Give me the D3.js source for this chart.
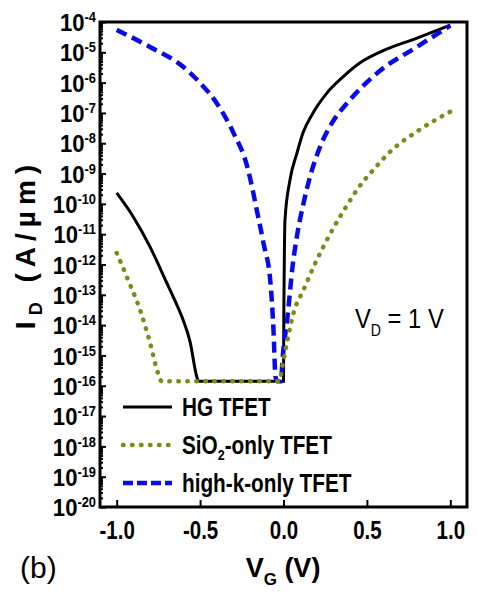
<!DOCTYPE html>
<meta charset="utf-8">
<style>
body { margin: 0; background: #fff; }
text { font-family: "Liberation Sans", Arial, sans-serif; }
.tick line { stroke: #000; stroke-width: 2px; }
.curve { fill: none; }
</style>
<body>
<script src="https://d3js.org/d3.v7.min.js"></script>
<script>

// ---- data (V_G in volts, I_D in A/um) ----
var hgV  = [-1.0, -0.9, -0.8, -0.7, -0.65, -0.6, -0.56, -0.52, -0.51, -0.3, 0.0, 0.002, 0.006, 0.009, 0.039, 0.081, 0.117, 0.177, 0.261, 0.357, 0.459, 0.579, 0.8, 1.0];
var hgI  = [2.3e-10, 3.7e-11, 3.8e-12, 2.5e-13, 6.3e-14, 1.4e-14, 2.8e-15, 2e-16, 1.4e-16, 1.4e-16, 1.4e-16, 3.2e-14, 5e-12, 2.95e-11, 6.2e-10, 4.8e-9, 2.2e-8, 1e-7, 4.6e-7, 1.55e-6, 4.5e-6, 1.02e-5, 2.95e-5, 7.9e-5];

var sioV = [-1.0, -0.932, -0.86, -0.8, -0.752, -0.73, -0.3, -0.025, -0.005, 0.024, 0.06, 0.12, 0.18, 0.283, 0.386, 0.446, 0.542, 0.645, 0.807, 1.0];
var sioI = [2.4e-12, 3.1e-13, 3.2e-14, 2.6e-15, 2.6e-16, 1.4e-16, 1.4e-16, 1.4e-16, 5e-16, 3.2e-15, 2.5e-14, 1.45e-13, 8.3e-13, 1.1e-11, 1e-10, 3.2e-10, 1.4e-9, 5.6e-9, 2.6e-8, 1.1e-7];

var hkV  = [-1.0, -0.8, -0.6, -0.5, -0.4, -0.3, -0.217, -0.181, -0.169, -0.12, -0.078, -0.06, -0.048, -0.035, -0.015, -0.006, 0.024, 0.054, 0.084, 0.115, 0.159, 0.219, 0.291, 0.381, 0.471, 0.58, 0.807, 1.0];
var hkI  = [5.5e-5, 1.5e-5, 3.3e-6, 9.8e-7, 2.1e-7, 2.2e-8, 1.66e-9, 2.3e-10, 1.07e-10, 5.1e-12, 2.45e-13, 6.9e-15, 1.95e-16, 1.4e-16, 1.4e-16, 7.1e-16, 1.86e-14, 8.3e-13, 1.1e-11, 7.9e-11, 7.8e-10, 7.6e-9, 4.7e-8, 2.1e-7, 7.2e-7, 2.5e-6, 1.6e-5, 7.6e-5];

var xTicks = [-1.0, -0.5, 0.0, 0.5, 1.0];
var yExps  = d3.range(-20, -3);   // 10^-20 .. 10^-4

// ---- layout ----
var W = 477, H = 592;
var m = {left: 100, right: 467, top: 22, bottom: 507};

var svg = d3.select("body").append("svg")
    .attr("width", W)
    .attr("height", H);

var x = d3.scaleLinear().domain([-1.1, 1.1]).range([m.left, m.right]);
var y = d3.scaleLog().domain([1e-20, 1e-4]).range([m.bottom, m.top]);

// squeeze a text horizontally around (ax, ay)
function squeeze(sel, k, ax, ay) {
  sel.attr("transform", "translate(" + ax + "," + ay + ") scale(" + k + ",1) translate(" + (-ax) + "," + (-ay) + ")");
}

// minor y ticks (2..9 in every decade)
var minor = [];
yExps.slice(0, -1).forEach(function(e) {
  for (var k = 2; k <= 9; k++) minor.push(k * Math.pow(10, e));
});
svg.append("g")
    .attr("transform", "translate(" + m.left + ",0)")
    .call(d3.axisLeft(y).tickValues(minor).tickSize(-3).tickFormat(""))
    .call(function(g) { g.select(".domain").remove(); g.selectAll(".tick line").attr("stroke-width", 1.5); });

// major y ticks with 10^n labels
var yAxis = svg.append("g")
    .attr("transform", "translate(" + m.left + ",0)")
    .call(d3.axisLeft(y)
        .tickValues(yExps.map(function(e) { return Math.pow(10, e); }))
        .tickSize(-6).tickPadding(4).tickFormat(""));
yAxis.select(".domain").remove();
yAxis.selectAll(".tick text")
    .attr("font-weight", "bold")
    .attr("font-size", 24)
    .attr("fill", "#000")
    .attr("dy", "0.36em")
    .each(function(d) {
      var t = d3.select(this);
      t.append("tspan").text("10");
      t.append("tspan").attr("font-size", 14).attr("dy", -9)
        .text(Math.round(Math.log10(d)));
    });
yAxis.selectAll(".tick text").call(squeeze, 0.92, -4, 0);

// x axis
var xAxis = svg.append("g")
    .attr("transform", "translate(0," + m.bottom + ")")
    .call(d3.axisBottom(x).tickValues(xTicks).tickSize(-7).tickPadding(14));
xAxis.select(".domain").remove();
xAxis.selectAll(".tick text")
    .attr("font-weight", "bold")
    .attr("font-size", 25)
    .attr("fill", "#000")
    .text(function(d) { return d3.format(".1f")(d).replace("\u2212", "-"); })
    .call(squeeze, 0.82, 0, 0);

// frame
svg.append("rect")
    .attr("x", m.left).attr("y", m.top)
    .attr("width", m.right - m.left).attr("height", m.bottom - m.top)
    .attr("fill", "none").attr("stroke", "#000").attr("stroke-width", 3);

// curves
var line = d3.line()
    .x(function(d) { return x(d[0]); })
    .y(function(d) { return y(d[1]); })
    .curve(d3.curveMonotoneX);

var series = [
  {name: "HG TFET",          v: hgV,  i: hgI,  color: "#000",    width: 3,   dash: null,      cap: "butt"},
  {name: "high-k-only TFET", v: hkV,  i: hkI,  color: "#0a0ae6", width: 4.5, dash: "11 6",    cap: "butt"},
  {name: "SiO2-only TFET",   v: sioV, i: sioI, color: "#7d8a1c", width: 4.5, dash: "0.5 8.5", cap: "round"}
];
series.forEach(function(s) {
  svg.append("path")
      .datum(d3.zip(s.v, s.i))
      .attr("class", "curve")
      .attr("stroke", s.color)
      .attr("stroke-width", s.width)
      .attr("stroke-dasharray", s.dash)
      .attr("stroke-linecap", s.cap)
      .attr("d", line);
});

// legend (order: HG, SiO2, high-k)
[0, 2, 1].forEach(function(si, i) {
  var s = series[si], ly = 407 + i * 38;
  svg.append("line")
      .attr("x1", 123).attr("x2", 172).attr("y1", ly).attr("y2", ly)
      .attr("stroke", s.color).attr("stroke-width", s.width)
      .attr("stroke-dasharray", si === 1 ? "10 4" : s.dash)
      .attr("stroke-linecap", s.cap);
  var t = svg.append("text")
      .attr("x", 182).attr("y", ly + 9)
      .attr("font-weight", "bold").attr("font-size", 25);
  if (si === 2) {
    t.append("tspan").text("SiO");
    t.append("tspan").attr("font-size", 15).attr("dy", 6).text("2");
    t.append("tspan").attr("dy", -6).text("-only TFET");
  } else {
    t.text(s.name);
  }
  squeeze(t, 0.83, 182, 0);
});

// V_D = 1 V
var vd = svg.append("text")
    .attr("x", 355).attr("y", 328).attr("font-size", 27);
vd.append("tspan").text("V");
vd.append("tspan").attr("font-size", 16).attr("dy", 8).text("D");
vd.append("tspan").attr("dy", -8).text(" = 1 V");
squeeze(vd, 0.88, 355, 0);

// y title
var yt = svg.append("text")
    .attr("transform", "translate(35,244) rotate(-90)")
    .attr("text-anchor", "middle")
    .attr("font-weight", "bold").attr("font-size", 28)
    .attr("letter-spacing", 6);
yt.append("tspan").text("I");
yt.append("tspan").attr("font-size", 18).attr("dy", 7).text("D");
yt.append("tspan").attr("dy", -7).text(" (A/\u00b5m)");

// x title
var xt = svg.append("text")
    .attr("x", 283).attr("y", 577)
    .attr("text-anchor", "middle")
    .attr("font-weight", "bold").attr("font-size", 27);
xt.append("tspan").text("V");
xt.append("tspan").attr("font-size", 17).attr("dy", 8).text("G");
xt.append("tspan").attr("dy", -8).text(" (V)");

// panel tag
svg.append("text")
    .attr("x", 20).attr("y", 578)
    .attr("font-size", 30)
    .text("(b)");

</script>
</body>
